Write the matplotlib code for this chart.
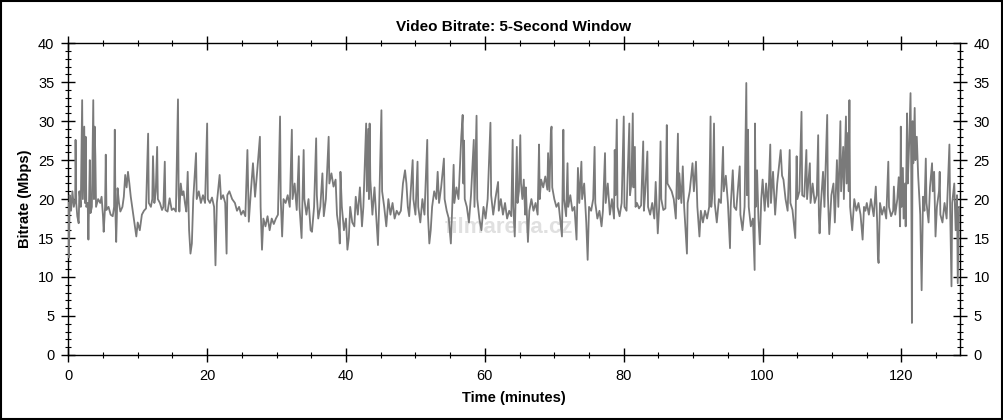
import matplotlib
matplotlib.use("Agg")
import matplotlib.pyplot as plt
from matplotlib.ticker import MultipleLocator
import numpy as np

# ---- data (minutes, Mbps) ----
t_a = [0.0,0.1,0.2,0.4,0.6,0.8,1.0,1.05,1.15,1.3,1.5,1.6,1.8,2.0,2.1,2.3,2.4,2.5,2.6,2.8,2.9,3.0,3.1,3.2,3.4,3.6,3.7,3.8,3.9,4.0,4.3,4.6,4.8,5.0,5.1,5.3,5.4,5.5,5.8,6.1,6.4,6.6,6.7,6.8,6.9,7.1,7.3,7.5,7.8,8.0,8.2,8.4,8.6,8.8,9.0,9.2,9.6,9.8,10.0,10.3,10.6,10.9,11.2,11.5,11.6,11.9,12.1,12.2,12.4,12.6,12.8,12.9,13.2,13.5,13.7,13.9,14.0,14.3,14.6,14.9,15.2,15.5,15.8,15.9]
v_a = [19.5,12.5,20.5,18.5,21.0,19.0,20.0,27.6,19.5,17.8,16.9,21.0,19.0,32.7,20.0,29.3,19.5,28.0,19.0,19.5,14.8,20.0,25.0,18.2,19.0,32.7,20.0,29.3,25.5,19.0,20.0,19.5,20.3,17.8,15.8,19.0,25.7,18.6,19.0,18.0,17.8,19.0,28.9,18.0,14.5,21.4,19.5,18.4,19.0,20.3,23.1,21.5,23.5,22.0,20.3,19.0,16.5,15.2,17.0,16.0,18.0,18.5,18.8,28.4,19.5,19.0,20.0,25.5,19.5,21.0,26.7,20.0,19.5,18.6,19.0,24.8,18.6,18.4,20.1,18.6,18.8,18.4,32.8,20.5]

t_b = [16.0,16.2,16.4,16.6,16.8,17.0,17.2,17.4,17.6,17.8,18.0,18.4,18.5,18.8,19.1,19.4,19.7,20.0,20.1,20.4,20.7,21.0,21.2,21.4,21.8,22.0,22.3,22.6,22.8,22.9,23.2,23.6,24.0,24.3,24.6,24.9,25.2,25.5,25.8,25.9,26.0,26.3,26.6,26.9,27.2,27.6,27.7,27.9,28.1,28.4,28.7,29.0,29.3,29.6,29.9,30.2,30.5,30.6,30.8,31.0,31.3,31.6,31.9]
v_b = [18.4,22.0,20.5,21.0,19.5,18.4,23.5,16.0,13.0,14.3,20.0,25.9,20.0,21.0,19.5,20.5,19.5,29.7,20.0,19.5,20.2,19.0,11.5,19.5,23.1,20.0,20.5,19.5,13.0,20.5,21.0,20.0,19.5,18.5,19.0,18.0,18.5,17.8,26.3,22.0,17.1,21.0,24.6,20.3,23.5,28.0,19.0,13.5,17.5,16.5,17.8,16.0,17.5,16.8,17.5,18.0,30.6,20.0,15.2,20.0,19.5,20.5,19.0]

t_c = [32.2,32.3,32.6,32.9,33.2,33.3,33.6,33.9,34.0,34.3,34.6,34.9,35.1,35.4,35.7,35.8,36.0,36.3,36.6,36.8,37.1,37.5,37.6,37.9,38.2,38.5,38.7,39.0,39.1,39.2,39.4,39.7,40.0,40.2,40.4,40.6,40.9,41.2,41.4,41.7,42.0,42.3,42.5,42.9,43.0,43.2,43.3,43.4,43.5,43.8,44.1,44.4,44.6,44.8,45.1,45.2,45.5,45.8,46.1,46.4,46.7,47.0,47.3,47.6,47.9,48.2,48.5]
v_c = [28.9,20.0,22.0,18.6,25.5,19.0,15.0,26.3,20.0,18.0,20.0,16.0,15.8,19.0,27.8,20.5,17.5,19.0,23.3,17.8,20.0,28.0,22.0,23.3,21.6,22.5,18.0,16.0,14.3,23.5,19.0,16.0,17.5,13.5,15.0,19.0,17.0,16.5,20.3,18.0,21.5,16.5,19.0,29.7,21.0,29.0,20.0,29.7,22.5,18.0,21.5,17.0,14.1,20.0,31.4,21.0,19.0,16.5,20.0,18.0,19.5,17.5,18.5,18.0,18.5,22.0,23.7]

t_d = [48.7,48.9,49.1,49.4,49.6,49.7,50.0,50.3,50.4,50.7,51.0,51.3,51.7,51.8,52.0,52.2,52.4,52.7,53.0,53.2,53.4,53.7,54.1,54.2,54.5,54.8,55.1,55.3,55.5,55.6,55.9,56.2,56.6,56.8,56.9,57.0,57.1,57.4,57.7,58.0,58.4,58.5,58.8,58.9,59.2,59.5,59.8,60.1,60.4,60.8,60.9,61.2,61.5,61.9,62.0,62.3,62.6,62.9,63.2,63.5,63.8,64.0,64.1,64.3,64.4,64.6,64.7,64.9,65.1,65.2]
v_d = [22.0,19.0,17.8,22.0,25.0,20.0,18.0,24.8,19.0,17.0,20.0,18.0,27.6,18.0,14.3,16.0,19.0,21.0,20.0,23.5,19.5,21.5,25.2,20.0,18.5,17.5,14.3,19.0,24.4,19.5,21.5,20.0,28.0,30.8,22.0,27.5,20.0,19.0,17.0,20.5,27.6,19.0,30.7,20.0,17.5,16.0,19.0,17.5,20.0,29.8,20.5,18.0,20.0,22.2,18.5,20.0,18.0,19.5,17.5,18.5,17.8,27.6,19.0,15.2,19.0,26.7,19.5,21.0,28.2,22.0]

t_e = [65.4,65.6,65.8,65.9,66.2,66.4,66.7,67.0,67.3,67.6,67.8,67.9,68.1,68.4,68.7,69.0,69.1,69.3,69.5,69.6,69.7,70.0,70.3,70.6,70.8,71.1,71.3,71.4,71.7,71.9,72.0,72.3,72.6,72.9,73.2,73.4,73.6,73.9,74.0,74.3,74.6,74.8,75.0,75.3,75.6,75.8,75.9,76.2,76.5,76.8,77.0,77.3,77.4,77.7,78.0,78.3,78.6,78.7,78.8,79.0,79.1,79.4,79.7,80.0,80.1,80.4,80.8,80.9,81.1,81.3,81.4]
v_e = [20.0,22.5,18.0,21.5,14.5,18.5,20.0,18.5,19.5,18.0,27.0,20.0,22.5,21.5,22.9,21.2,25.9,21.0,28.5,29.3,21.5,20.0,19.0,19.5,17.8,15.2,28.9,20.0,17.8,24.6,19.0,20.5,18.5,19.0,14.8,24.0,19.5,24.8,20.0,22.0,17.0,12.2,19.0,18.5,20.0,26.7,19.5,17.5,18.5,16.5,18.5,25.9,19.5,22.0,18.0,20.0,17.5,26.3,20.5,30.2,19.0,17.8,19.5,30.6,19.0,18.5,29.7,20.5,22.0,31.0,21.5]

t_f = [81.6,81.7,81.9,82.2,82.5,82.8,82.9,83.1,83.4,83.5,83.8,84.1,84.4,84.6,84.8,84.9,85.1,85.3,85.4,85.7,86.0,86.2,86.3,86.6,86.9,87.2,87.5,87.8,87.9,88.0,88.3,88.5,88.7,89.1,89.2,89.5,89.9,90.1,90.4,90.6,90.9,91.1,91.4,91.7,92.0,92.3,92.5,92.6,92.8,93.0,93.1,93.4,93.7,94.0,94.3,94.4,94.7,95.0,95.3,95.4,95.7,95.9,96.2,96.7,96.8,97.1,97.4,97.65,97.75,97.9,98.0,98.3]
v_f = [26.7,19.0,19.5,18.8,19.2,27.4,18.5,21.0,26.1,19.0,18.0,19.5,17.5,22.2,18.0,15.6,19.0,27.4,20.0,18.6,18.8,29.5,22.0,21.5,21.0,20.0,17.5,28.4,20.0,23.3,19.5,24.2,19.0,13.0,19.5,21.0,24.6,21.0,24.8,19.0,15.2,18.5,17.0,18.5,17.5,19.0,30.6,19.0,21.0,29.7,19.5,17.0,20.0,19.5,26.7,21.0,23.0,19.5,13.7,19.0,23.7,19.0,18.6,24.2,18.0,16.0,19.0,34.9,20.5,28.9,19.0,16.5]

t_g = [98.6,98.85,98.9,99.0,99.2,99.4,99.6,99.8,100.0,100.3,100.5,100.8,101.1,101.2,101.5,101.8,102.1,102.4,102.6,102.8,103.0,103.3,103.6,103.9,104.0,104.3,104.7,104.9,105.0,105.3,105.6,105.7,106.0,106.3,106.4,106.8,106.9,107.2,107.5,107.8,108.0,108.1,108.2,108.4,108.7,108.9,109.3,109.4,109.6,109.9,110.2,110.4,110.7,110.9,111.2,111.3,111.6,111.7,112.0,112.1,112.3,112.4,112.5,112.6,112.9,113.2,113.5,113.8,114.1,114.4,114.6,114.8]
v_g = [17.5,10.9,29.7,19.0,23.7,17.5,14.2,20.0,22.5,18.5,22.0,19.0,27.0,19.5,23.5,18.0,22.0,24.5,26.3,23.0,22.5,20.0,18.5,26.3,19.5,18.6,15.0,25.5,20.0,21.0,31.2,20.5,20.3,26.3,20.0,24.6,19.5,22.0,19.5,20.5,28.2,18.0,15.6,19.5,23.5,19.0,30.8,20.5,15.5,20.5,22.0,17.0,25.0,19.0,30.0,21.0,26.7,20.0,30.6,22.0,28.5,21.0,32.7,19.0,16.0,20.0,18.5,19.5,18.0,14.8,19.0,18.5]

t_h = [115.0,115.3,115.6,116.0,116.3,116.5,116.6,116.7,116.9,117.2,117.5,117.8,118.1,118.2,118.5,118.8,118.9,119.1,119.4,119.6,119.8,119.9,120.0,120.2,120.3,120.5,120.6,120.8,120.9,121.1,121.3,121.4,121.5,121.6,121.7,121.9,122.0,122.2,122.4,122.7,122.9,123.1,123.3,123.5,123.6,123.9,124.1,124.4,124.5,124.7,124.9,125.1,125.4,125.5,125.6,125.9,126.2,126.5,126.9,127.0,127.2,127.3,127.6,127.8,128.0,128.1,128.3]
v_h = [19.5,18.0,20.0,17.8,21.6,17.0,12.6,11.8,19.5,18.0,19.0,17.5,24.8,19.0,17.8,18.5,21.6,18.0,20.0,22.8,16.5,29.3,19.0,24.0,17.5,22.0,16.5,31.0,22.0,27.0,33.6,24.0,4.1,30.0,24.6,31.7,25.0,28.0,23.0,18.0,8.3,20.3,18.5,25.2,19.5,17.0,21.5,24.6,21.0,23.5,15.2,19.0,21.0,23.5,18.0,17.0,19.5,17.5,27.0,19.0,8.8,19.5,22.0,16.0,20.5,9.2,19.0]

x_ticks = [0, 20, 40, 60, 80, 100, 120]
y_ticks = [0, 5, 10, 15, 20, 25, 30, 35, 40]

t_parts = [t_a, t_b, t_c, t_d, t_e, t_f, t_g, t_h]
v_parts = [v_a, v_b, v_c, v_d, v_e, v_f, v_g, v_h]
times, rates = [], []
for tp, vp in zip(t_parts, v_parts):
    n = min(len(tp), len(vp))
    times += tp[:n]
    rates += vp[:n]

plt.rcParams['font.family'] = ['Liberation Sans', 'DejaVu Sans']

fig = plt.figure(figsize=(10.04, 4.20), dpi=100)
ax = fig.add_axes([0.068, 0.155, 0.888, 0.742])

ax.plot(times, rates, color='#7a7a7a', lw=1.3, zorder=3)

ax.text(63.5, 16.4, 'filmarena.cz', color='#e0e0e0', fontsize=16,
        fontweight='bold', ha='center', va='center', zorder=1)

ax.set_xlim(0, 128.4)
ax.set_ylim(0, 40)
ax.set_xticks(x_ticks)
ax.set_yticks(y_ticks)
ax.xaxis.set_minor_locator(MultipleLocator(5))
ax.yaxis.set_minor_locator(MultipleLocator(1))
ax.tick_params(which='both', direction='inout', top=True, right=True,
               labelright=True, labelsize=10.5, color='black')
ax.tick_params(which='major', length=10, width=1)
ax.tick_params(which='minor', length=5, width=0.8)
ax.tick_params(axis='y', pad=5)
ax.tick_params(axis='x', pad=5)
for s in ax.spines.values():
    s.set_linewidth(1.0)
    s.set_color('black')

ax.set_title('Video Bitrate: 5-Second Window', fontsize=11, fontweight='bold', pad=9)
ax.set_xlabel('Time (minutes)', fontsize=10.5, fontweight='bold', labelpad=6)
ax.set_ylabel('Bitrate (Mbps)', fontsize=10.5, fontweight='bold', labelpad=4)

fig.patches.append(plt.Rectangle((0.001, 0.002), 0.997, 0.995, transform=fig.transFigure,
                                 fill=False, edgecolor='black', lw=1.5))

fig.savefig('out.png', dpi=100)
